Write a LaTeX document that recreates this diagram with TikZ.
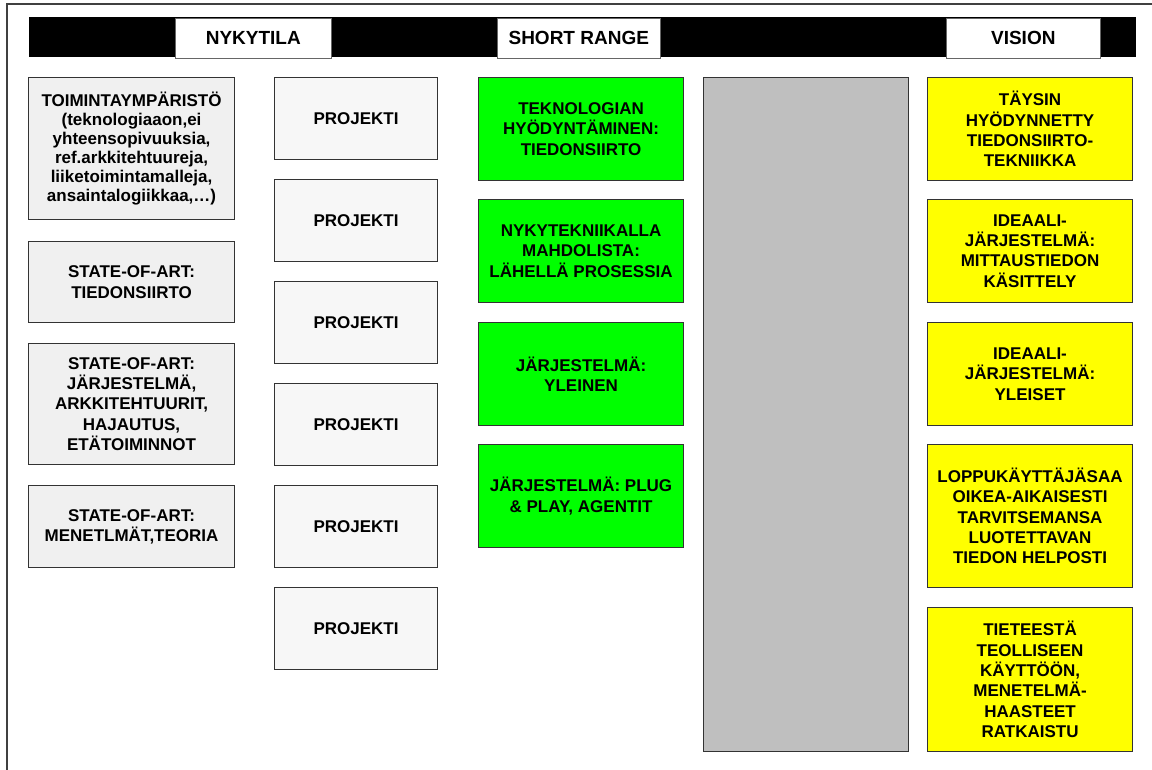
\documentclass[tikz,border=0pt]{standalone}
\usepackage{fontspec}
\setmainfont{Liberation Sans}
\begin{document}
\begin{tikzpicture}[x=1pt,y=-1pt,
  txt/.style={font=\fontsize{17}{20.3}\selectfont\bfseries, align=center, inner sep=0pt},
  cell/.style={txt, draw=black!80, line width=1.1pt, anchor=north west},
  statebox/.style={cell, fill=black!6, minimum width=206pt},
  projbox/.style={cell, fill=black!3, minimum width=163pt, minimum height=82pt},
  greenbox/.style={cell, fill={rgb,255:red,0;green,255;blue,0}, minimum width=205pt, minimum height=103pt},
  yellowbox/.style={cell, fill={rgb,255:red,255;green,255;blue,0}, minimum width=205pt},
  headbox/.style={font=\fontsize{19}{22}\selectfont\bfseries, fill=white, draw=black!60, line width=0.6pt,
    minimum height=40pt, inner sep=0pt, anchor=north west}
]
\useasboundingbox (0,0) rectangle (1152,769);
\fill[white] (0,0) rectangle (1152,769);

% page frame
\draw[black!75, line width=2pt] (7,790) -- (7,4) -- (1170,4);

% title bar
\fill[black] (29,17) rectangle (1136,57);
\node[headbox, minimum width=156pt] (hnow) at (175,17.5) {NYKYTILA};
\node[headbox, minimum width=163pt] (hshort) at (497,17.5) {SHORT RANGE};
\node[headbox, minimum width=154pt] (hvis) at (946,17.5) {VISION};

% current state column
\node[statebox, minimum height=142pt, font=\fontsize{17}{19}\selectfont\bfseries] (s1) at (28,77) {TOIMINTAYMPÄRISTÖ\\(teknologiaaon,ei\\yhteensopivuuksia,\\ref.arkkitehtuureja,\\liiketoimintamalleja,\\ansaintalogiikkaa,…)};
\node[statebox, minimum height=81pt] (s2) at (28,241) {STATE-OF-ART:\\TIEDONSIIRTO};
\node[statebox, minimum height=121pt] (s3) at (28,343) {STATE-OF-ART:\\JÄRJESTELMÄ,\\ARKKITEHTUURIT,\\HAJAUTUS,\\ETÄTOIMINNOT};
\node[statebox, minimum height=82pt] (s4) at (28,485) {STATE-OF-ART:\\MENETLMÄT,TEORIA};

% project column
\node[projbox] (p1) at (274,77) {PROJEKTI};
\node[projbox] (p2) at (274,179) {PROJEKTI};
\node[projbox] (p3) at (274,281) {PROJEKTI};
\node[projbox] (p4) at (274,383) {PROJEKTI};
\node[projbox] (p5) at (274,485) {PROJEKTI};
\node[projbox] (p6) at (274,587) {PROJEKTI};

% short range column
\node[greenbox] (g1) at (478,77) {TEKNOLOGIAN\\HYÖDYNTÄMINEN:\\TIEDONSIIRTO};
\node[greenbox] (g2) at (478,199) {NYKYTEKNIIKALLA\\MAHDOLISTA:\\LÄHELLÄ PROSESSIA};
\node[greenbox] (g3) at (478,322) {JÄRJESTELMÄ:\\YLEINEN};
\node[greenbox] (g4) at (478,444) {JÄRJESTELMÄ: PLUG\\\& PLAY, AGENTIT};

% middle band
\node[cell, fill=black!25, minimum width=205pt, minimum height=674pt] (mid) at (703,77) {};

% vision column
\node[yellowbox, minimum height=103pt] (v1) at (927,77) {TÄYSIN\\HYÖDYNNETTY\\TIEDONSIIRTO-\\TEKNIIKKA};
\node[yellowbox, minimum height=103pt] (v2) at (927,199) {IDEAALI-\\JÄRJESTELMÄ:\\MITTAUSTIEDON\\KÄSITTELY};
\node[yellowbox, minimum height=103pt] (v3) at (927,322) {IDEAALI-\\JÄRJESTELMÄ:\\YLEISET};
\node[yellowbox, minimum height=143pt] (v4) at (927,444) {LOPPUKÄYTTÄJÄSAA\\OIKEA-AIKAISESTI\\TARVITSEMANSA\\LUOTETTAVAN\\TIEDON HELPOSTI};
\node[yellowbox, minimum height=144pt] (v5) at (927,607) {TIETEESTÄ\\TEOLLISEEN\\KÄYTTÖÖN,\\MENETELMÄ-\\HAASTEET\\RATKAISTU};
\end{tikzpicture}
\end{document}
